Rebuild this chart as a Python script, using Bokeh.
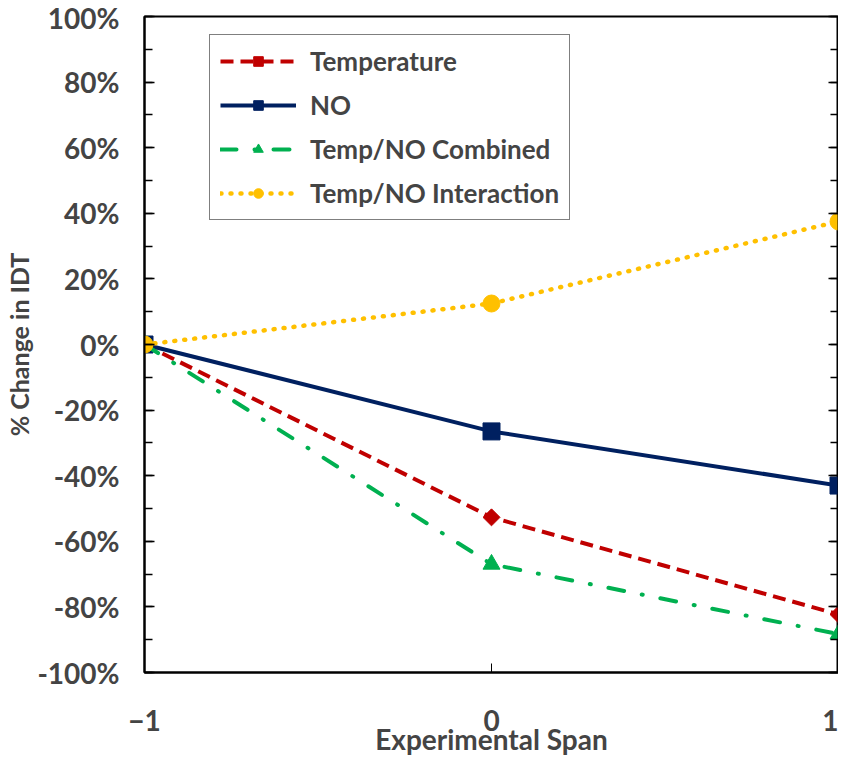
from bokeh.plotting import figure
from bokeh.models import (Range1d, LinearAxis, FixedTicker, SingleIntervalTicker,
                          PrintfTickFormatter, Legend, LegendItem)
from bokeh.embed import file_html
from bokeh.resources import INLINE
import math

# ---- data ----
span = [-1, 0, 1]
temperature = [0, -52.7, -82.3]
no_vals = [0, -26.5, -43.0]
combined = [0, -67.0, -88.3]
interaction = [0, 12.5, 37.5]

series_names = ["Temperature", "NO", "Temp/NO Combined", "Temp/NO Interaction"]
x_ticks = [-1, 0, 1]

FONT = "Lato"

p = figure(width=838, height=759, x_range=Range1d(-1, 1), y_range=Range1d(-100, 100),
           output_backend="svg", toolbar_location=None,
           min_border_left=144, min_border_top=16, min_border_right=0, min_border_bottom=87)
p.xgrid.visible = False
p.ygrid.visible = False
p.outline_line_color = "black"
p.outline_line_width = 2
p.background_fill_color = "white"
p.border_fill_color = "white"

# x axis
xa = p.xaxis[0]
xa.ticker = FixedTicker(ticks=x_ticks, minor_ticks=[])
xa.axis_line_width = 2
xa.major_tick_in = 9
xa.major_tick_out = 0
xa.major_tick_line_width = 1
xa.minor_tick_line_color = None
xa.major_label_text_font = FONT
xa.major_label_text_font_style = "bold"
xa.major_label_text_font_size = "28px"
xa.major_label_standoff = 37
xa.axis_label = "Experimental Span"
xa.axis_label_text_font = FONT
xa.axis_label_text_font_style = "bold"
xa.axis_label_text_font_size = "28px"
xa.axis_label_standoff = -12

# y axis
ya = p.yaxis[0]
ya.ticker = SingleIntervalTicker(interval=20, num_minor_ticks=2)
ya.formatter = PrintfTickFormatter(format="%d%%")
ya.axis_line_width = 2
ya.major_tick_in = 10
ya.major_tick_out = 0
ya.minor_tick_in = 8
ya.minor_tick_out = 0
ya.major_tick_line_width = 1.5
ya.minor_tick_line_width = 1.5
ya.major_label_text_font = FONT
ya.major_label_text_font_style = "bold"
ya.major_label_text_font_size = "28px"
ya.major_label_standoff = 25
ya.axis_label = "% Change in IDT"
ya.axis_label_text_font = FONT
ya.axis_label_text_font_style = "bold"
ya.axis_label_text_font_size = "25px"
ya.axis_label_standoff = 0

# right axis with inward ticks only
ra = LinearAxis(ticker=SingleIntervalTicker(interval=20, num_minor_ticks=2),
                major_label_text_font_size="0px", major_label_standoff=0,
                major_tick_in=10, major_tick_out=0, minor_tick_in=8, minor_tick_out=0,
                major_tick_line_width=1.5, minor_tick_line_width=1.5,
                axis_line_width=2)
p.add_layout(ra, "right")

# series
r1l = p.line(span, temperature, line_color="#C00000", line_width=4, line_dash="13 7")
r1m = p.scatter(span, temperature, marker="square", size=12, angle=math.pi / 4,
                fill_color="#C00000", line_color="#C00000")
r2l = p.line(span, no_vals, line_color="#002060", line_width=4)
r2m = p.scatter(span, no_vals, marker="square", size=17,
                fill_color="#002060", line_color="#002060")
r3l = p.line(span, combined, line_color="#00B050", line_width=4, line_dash="16 18 1 18",
             line_cap="round")
r3m = p.scatter(span, combined, marker="triangle", size=17,
                fill_color="#00B050", line_color="#00B050")
r4l = p.line(span, interaction, line_color="#FFC000", line_width=4.5, line_dash="1 9",
             line_cap="round")
r4m = p.scatter(span, interaction, marker="circle", size=17,
                fill_color="#FFC000", line_color="#FFC000")

legend = Legend(items=[
    LegendItem(label=series_names[0], renderers=[r1l, r1m]),
    LegendItem(label=series_names[1], renderers=[r2l, r2m]),
    LegendItem(label=series_names[2], renderers=[r3l, r3m]),
    LegendItem(label=series_names[3], renderers=[r4l, r4m]),
], location=(65, 452))
legend.label_text_font = FONT
legend.label_text_font_style = "bold"
legend.label_text_font_size = "26px"
legend.glyph_width = 76
legend.glyph_height = 24
legend.label_height = 24
legend.label_standoff = 14
legend.spacing = 12
legend.padding = 10
legend.margin = 0
legend.border_line_color = "black"
legend.border_line_width = 1.5
legend.background_fill_alpha = 1
p.add_layout(legend, "center")

open("out.html", "w").write(file_html(p, INLINE))
